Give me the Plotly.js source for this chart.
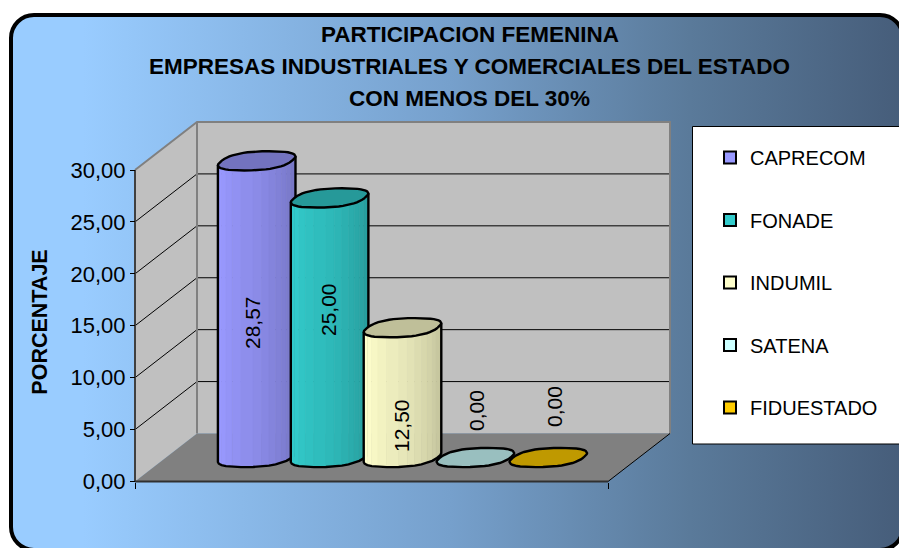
<!DOCTYPE html>
<html>
<head>
<meta charset="utf-8">
<script src="https://cdn.plot.ly/plotly-3.0.1.min.js"></script>
<style>
html,body{margin:0;padding:0;width:899px;height:548px;overflow:hidden;background:#fff}
#frame{position:absolute;left:9px;top:13px;width:896px;height:539px;box-sizing:border-box;border:4px solid #000;border-radius:25px;
background:linear-gradient(90deg,#99CCFF 0px,#99CCFF 70px,#76A0CC 437px,#5A7A9A 677px,#465D7A 890px)}
#chart{position:absolute;left:0;top:0;width:899px;height:548px}
</style>
</head>
<body>
<div id="frame"></div>
<div id="chart"></div>
<script>
// ---- data ----
const titleLines = ["PARTICIPACION FEMENINA", "EMPRESAS INDUSTRIALES Y COMERCIALES DEL ESTADO", "CON MENOS DEL 30%"];
const yAxisTitle = "PORCENTAJE";
const seriesNames = ["CAPRECOM", "FONADE", "INDUMIL", "SATENA", "FIDUESTADO"];
const seriesValues = [28.57, 25.00, 12.50, 0.00, 0.00];
const seriesColors = ["#9999FF", "#33CCCC", "#FFFFCC", "#CCFFFF", "#FFCC00"];
const yTicks = [0, 5, 10, 15, 20, 25, 30];

// ---- page geometry ----
const W = 899, H = 548, MT = 96;
const X0 = 135, X1 = 608, Y0 = 481.5, Y30 = 170;
const pxPerX = (X1 - X0) / 5, pxPerY = (Y0 - Y30) / 30;
const xRange = [(0 - X0) / pxPerX, (W - X0) / pxPerX];
const yRange = [(Y0 - H) / pxPerY, (Y0 - MT) / pxPerY];
const depthX = 62 / pxPerX, depthY = 48 / pxPerY;      // floor depth, in axis units
const xFromPx = p => (p - X0) / pxPerX, yFromPx = p => (Y0 - p) / pxPerY;
const project = (x, y, d) => [x + d * depthX, y + d * depthY];

const traces = [];
function poly(points, fill, line, width) {
  const xs = points.map(p => p[0]), ys = points.map(p => p[1]);
  xs.push(xs[0]); ys.push(ys[0]);
  traces.push({type: "scatter", mode: line ? "lines" : "none", x: xs, y: ys, fill: "toself", fillcolor: fill,
    line: {color: line || fill, width: width || 0}, showlegend: false, hoverinfo: "skip"});
}
function seg(points, color, width) {
  traces.push({type: "scatter", mode: "lines", x: points.map(p => p[0]), y: points.map(p => p[1]),
    line: {color: color, width: width}, showlegend: false, hoverinfo: "skip"});
}

// ---- walls and floor ----
const xMax = 5, yMax = 30;
poly([project(0,0,0), project(0,yMax,0), project(0,yMax,1), project(0,0,1)], "#C0C0C0");
poly([project(0,0,1), project(0,yMax,1), project(xMax,yMax,1), project(xMax,0,1)], "#C0C0C0");
poly([project(0,0,0), project(0,0,1), project(xMax,0,1), project(xMax,0,0)], "#808080");
yTicks.filter(v => v > 0 && v < yMax).forEach(v => {
  seg([project(0,v,0), project(0,v,1), project(xMax,v,1)], "#000", 1);
});
seg([project(0,yMax,0), project(0,yMax,1), project(xMax,yMax,1), project(xMax,0,1)], "#808080", 2);
seg([project(0,yMax,1), project(0,0,1)], "#808080", 2);
seg([project(xMax,0,0), project(xMax,0,1)], "#000", 1);
seg([project(0,0,0), project(0,yMax,0)], "#404040", 2);
seg([project(0,0,0), project(xMax,0,0)], "#303030", 2);

// ---- series (legend-bearing value markers, sit under the cylinders) ----
const clusterMid = 2.5, clusterStep = 72.9 / pxPerX, midDepth = 0.5;
const cx = i => clusterMid + (i - 2) * clusterStep;
seriesNames.forEach((name, i) => {
  const p = project(cx(i), seriesValues[i], midDepth);
  traces.push({type: "scatter", mode: "markers", name: name, legendgroup: name, x: [p[0]], y: [p[1]],
    marker: {symbol: "square", size: 12, color: seriesColors[i], line: {color: "#000", width: 2}},
    hovertemplate: name + ": %{text}<extra></extra>", text: [seriesValues[i].toFixed(2).replace(".", ",")]});
});

// ---- cylinders ----
const rX = 35.2 / pxPerX, rD = 0.2, BANDS = 14, ROUND = 0.8;
const sq = c => Math.sign(c) * Math.pow(Math.abs(c), ROUND);
let tEdge = 0, best = -1;
for (let k = 0; k <= 900; k++) {
  const t = k / 900 * Math.PI / 2;
  const w = rX * sq(Math.cos(t)) + rD * depthX * sq(Math.sin(t));
  if (w > best) { best = w; tEdge = t; }
}
function shade(hex, k) {
  const n = parseInt(hex.slice(1), 16);
  return "rgb(" + [(n >> 16) & 255, (n >> 8) & 255, n & 255].map(c => Math.round(c * k)).join(",") + ")";
}
seriesValues.forEach((v, i) => {
  const rim = (t, val) => project(cx(i) + rX * sq(Math.cos(t)), val, midDepth + rD * sq(Math.sin(t)));
  const color = seriesColors[i];
  const front = [];
  for (let b = 0; b <= BANDS; b++) front.push(Math.PI + tEdge + (Math.PI) * b / BANDS);
  if (v > 0) {
    for (let b = 0; b < BANDS; b++) {
      const pts = [rim(front[b], 0), rim(front[b], v), rim(front[b + 1], v), rim(front[b + 1], 0)];
      const f = (b + 0.5) / BANDS;
      const k = f < 0.14 ? 1 : 1 - 0.25 * (f - 0.14) / 0.86;
      poly(pts, shade(color, k), shade(color, k), 0.6);
    }
    const sil = [];
    front.forEach(t => sil.push(rim(t, 0)));
    sil.push(rim(front[BANDS], v));
    sil.unshift(rim(front[0], v));
    seg(sil, "#000", 2.4);
  }
  const top = [];
  for (let k = 0; k < 48; k++) top.push(rim(2 * Math.PI * k / 48, v));
  poly(top, shade(color, 0.75), "#000", 2.4);
});

// ---- text ----
const labelPxX = [252, 328, 401, 476, 554];
const labelPxY = [323, 310, 426, 411, 407];
const annotations = seriesValues.map((v, i) => ({
  xref: "x", yref: "y", x: xFromPx(labelPxX[i]), y: yFromPx(labelPxY[i]), text: v.toFixed(2).replace(".", ","),
  textangle: -90, showarrow: false, xanchor: "center", yanchor: "middle",
  font: {family: "Liberation Sans", size: 21, color: "#000"}
}));
[1, 2].forEach(k => annotations.push({
  xref: "paper", yref: "paper", x: 470 / W, y: (H - (34 + 32 * k)) / (H - MT), text: titleLines[k],
  showarrow: false, xanchor: "center", yanchor: "middle",
  font: {family: "Liberation Sans", size: 22.5, color: "#000", weight: 700}
}));

// ---- legend box ----
const shapes = [{type: "rect", xref: "paper", yref: "paper", x0: 692.5 / W, x1: 905 / W,
  y0: (H - 444) / (H - MT), y1: (H - 126.5) / (H - MT), fillcolor: "#fff", line: {color: "#000", width: 1}, layer: "above"}];

const layout = {
  width: W, height: H,
  margin: {l: 0, r: 0, t: MT, b: 0, autoexpand: false},
  paper_bgcolor: "rgba(0,0,0,0)", plot_bgcolor: "rgba(0,0,0,0)",
  separators: ",.",
  font: {family: "Liberation Sans", size: 21, color: "#000"},
  title: {text: titleLines[0], x: 470 / W, xanchor: "center", xref: "paper", y: (H - 34) / H, yanchor: "middle", yref: "container",
    font: {family: "Liberation Sans", size: 22.5, color: "#000", weight: 700}},
  xaxis: {range: xRange, domain: [0, 1], anchor: "free", position: (H - Y0) / (H - MT), showgrid: false, zeroline: false, showline: false,
    tickmode: "array", tickvals: [0, 5], ticktext: ["", ""], ticks: "outside", ticklen: 6, tickwidth: 1, tickcolor: "#000", fixedrange: true},
  yaxis: {range: yRange, domain: [0, 1], anchor: "free", position: X0 / W, showgrid: false, zeroline: false, showline: false,
    tickmode: "array", tickvals: yTicks, tickformat: ".2f", ticks: "outside", ticklen: 5, tickwidth: 1, tickcolor: "#000",
    tickfont: {family: "Liberation Sans", size: 22, color: "#000"},
    title: {text: yAxisTitle, standoff: 16, font: {family: "Liberation Sans", size: 21.5, color: "#000", weight: 700}}, fixedrange: true},
  legend: {x: 710 / W, xanchor: "left", y: (H - 138) / (H - MT), yanchor: "top", bgcolor: "rgba(0,0,0,0)", borderwidth: 0,
    tracegroupgap: 33.5, font: {family: "Liberation Sans", size: 20, color: "#000"}, itemclick: false, itemdoubleclick: false},
  showlegend: true,
  shapes: shapes,
  annotations: annotations
};
Plotly.newPlot("chart", traces, layout, {displayModeBar: false});
</script>
</body>
</html>
